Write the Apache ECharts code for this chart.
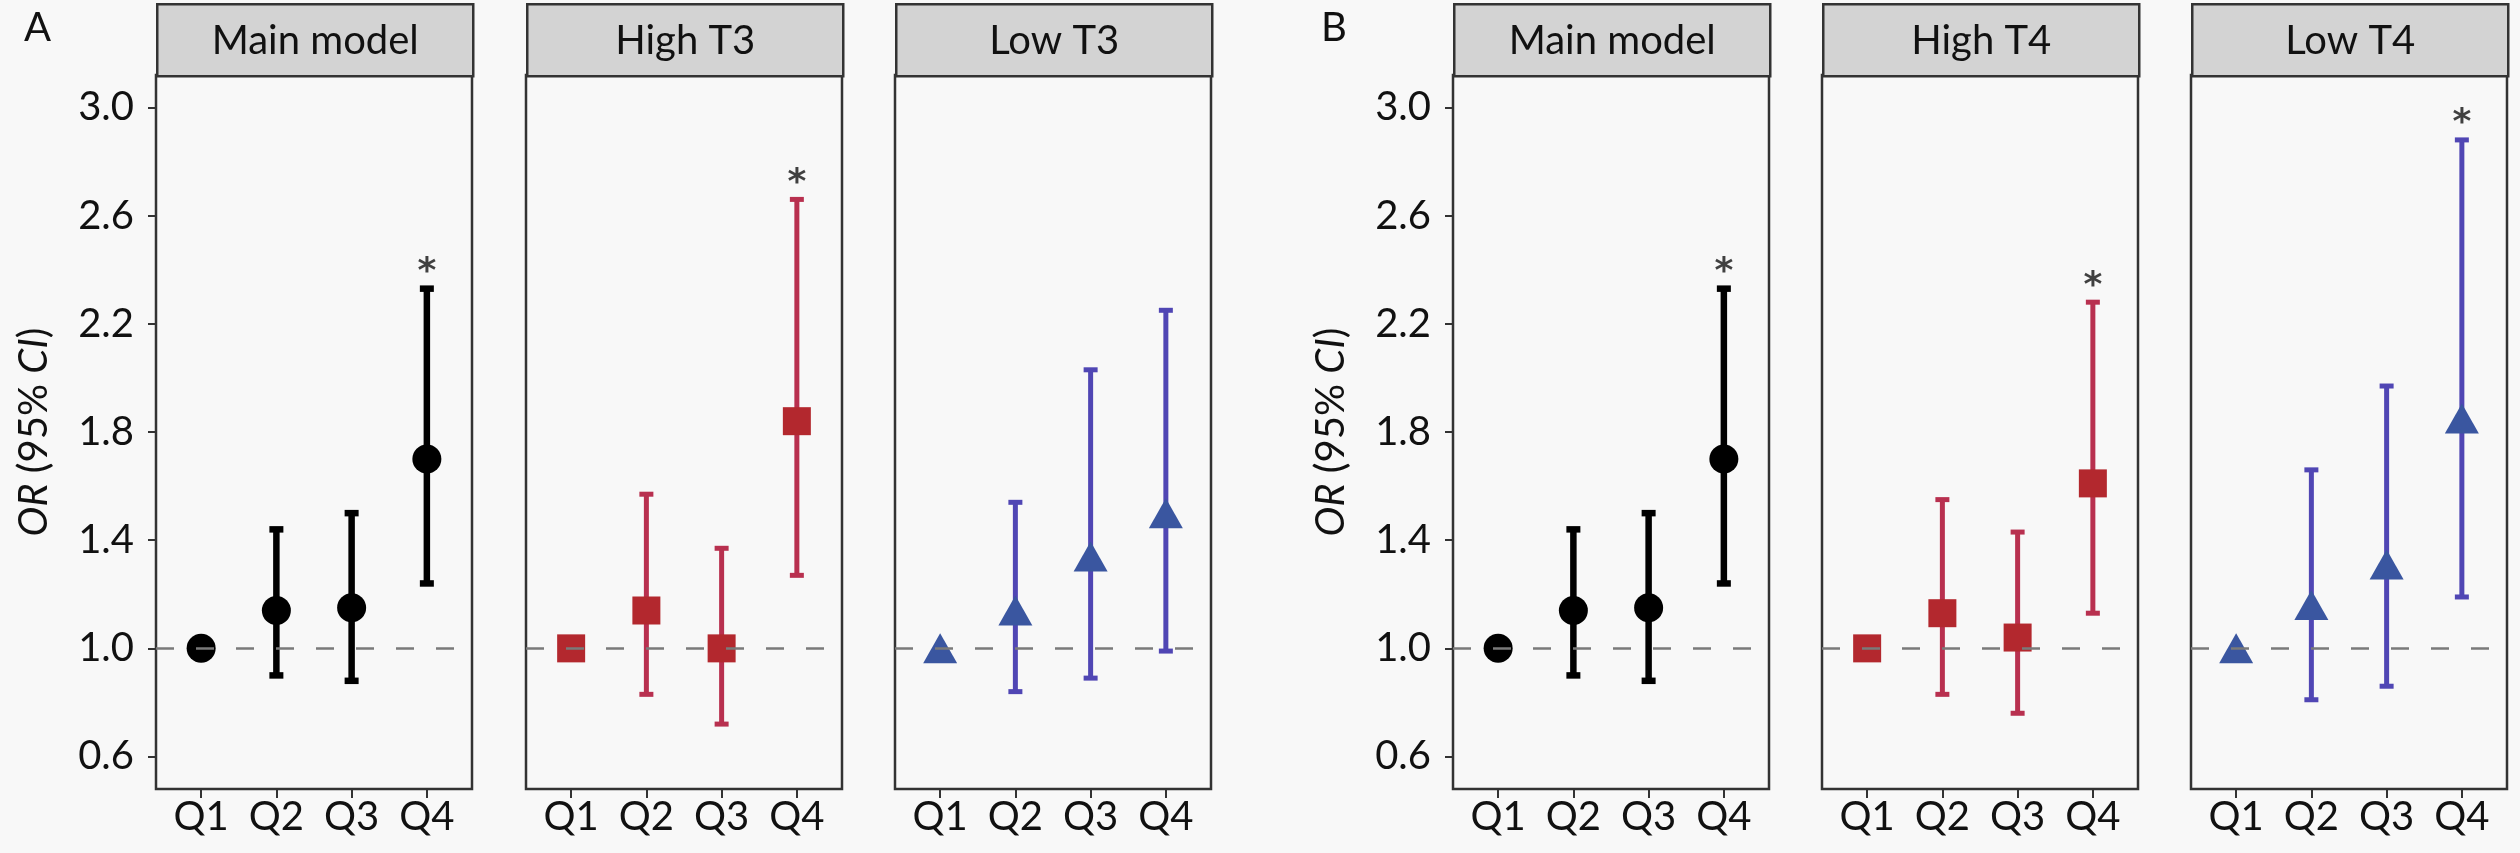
<!DOCTYPE html>
<html>
<head>
<meta charset="utf-8">
<script src="https://cdn.jsdelivr.net/npm/echarts@6/dist/echarts.min.js"></script>
<style>
  html, body { margin: 0; padding: 0; background: #f8f8f8; }
  #main { width: 2520px; height: 853px; }
</style>
</head>
<body>
<div id="main"></div>
<script>
var categories = ['Q1', 'Q2', 'Q3', 'Q4'];
var yTicks = [0.6, 1.0, 1.4, 1.8, 2.2, 2.6, 3.0];
var panelTitles = ['Main model', 'High T3', 'Low T3', 'Main model', 'High T4', 'Low T4'];

// odds ratios and 95% CI per quartile (Q1 = reference)
var mainOR = [1.00, 1.14, 1.15, 1.70];
var mainLo = [null, 0.90, 0.88, 1.24];
var mainHi = [null, 1.44, 1.50, 2.33];
var mainSig = [false, false, false, true];

var highT3OR = [1.00, 1.14, 1.00, 1.84];
var highT3Lo = [null, 0.83, 0.72, 1.27];
var highT3Hi = [null, 1.57, 1.37, 2.66];
var highT3Sig = [false, false, false, true];

var lowT3OR = [1.00, 1.14, 1.34, 1.50];
var lowT3Lo = [null, 0.84, 0.89, 0.99];
var lowT3Hi = [null, 1.54, 2.03, 2.25];
var lowT3Sig = [false, false, false, false];

var highT4OR = [1.00, 1.13, 1.04, 1.61];
var highT4Lo = [null, 0.83, 0.76, 1.13];
var highT4Hi = [null, 1.55, 1.43, 2.28];
var highT4Sig = [false, false, false, true];

var lowT4OR = [1.00, 1.16, 1.31, 1.85];
var lowT4Lo = [null, 0.81, 0.86, 1.19];
var lowT4Hi = [null, 1.66, 1.97, 2.88];
var lowT4Sig = [false, false, false, true];

var FONT = 'Lato';
var FS = 40;
var panels = [
  { or: mainOR, lo: mainLo, hi: mainHi, sig: mainSig, symbol: 'circle', size: 29, fill: '#000000', line: '#000000', lw: 6.5 },
  { or: highT3OR, lo: highT3Lo, hi: highT3Hi, sig: highT3Sig, symbol: 'rect', size: 28, fill: '#B3282E', line: '#B8304F', lw: 5 },
  { or: lowT3OR, lo: lowT3Lo, hi: lowT3Hi, sig: lowT3Sig, symbol: 'triangle', size: [34, 30], fill: '#3A56A0', line: '#5046B4', lw: 5 },
  { or: mainOR, lo: mainLo, hi: mainHi, sig: mainSig, symbol: 'circle', size: 29, fill: '#000000', line: '#000000', lw: 6.5 },
  { or: highT4OR, lo: highT4Lo, hi: highT4Hi, sig: highT4Sig, symbol: 'rect', size: 28, fill: '#B3282E', line: '#B8304F', lw: 5 },
  { or: lowT4OR, lo: lowT4Lo, hi: lowT4Hi, sig: lowT4Sig, symbol: 'triangle', size: [34, 30], fill: '#3A56A0', line: '#5046B4', lw: 5 }
];
var gridLefts = [156, 526, 895, 1453, 1822, 2191];
var gridW = 316, gridTop = 75, gridH = 714;

var grids = [], xAxes = [], yAxes = [], series = [], graphics = [];

panels.forEach(function (p, k) {
  var hasY = (k === 0 || k === 3);
  grids.push({
    left: gridLefts[k], top: gridTop, width: gridW, height: gridH,
    show: true, borderColor: '#333', borderWidth: 2.5, backgroundColor: '#f8f8f8'
  });
  xAxes.push({
    gridIndex: k, type: 'value', min: 0.4, max: 4.6,
    axisLine: { show: false },
    splitLine: { show: false },
    axisTick: { show: true, customValues: [1, 2, 3, 4], length: 9, lineStyle: { color: '#333', width: 2 } },
    axisLabel: {
      customValues: [1, 2, 3, 4], margin: 8,
      fontFamily: FONT, fontSize: FS, color: '#111',
      formatter: function (v) { return categories[Math.round(v) - 1]; }
    }
  });
  yAxes.push({
    gridIndex: k, type: 'value', min: 0.48, max: 3.12,
    axisLine: { show: false },
    splitLine: { show: false },
    axisTick: { show: hasY, customValues: yTicks, length: 8, lineStyle: { color: '#333', width: 2 } },
    axisLabel: {
      show: hasY, customValues: yTicks, margin: 22,
      fontFamily: FONT, fontSize: FS, color: '#111',
      formatter: function (v) { return v.toFixed(1); }
    },
    name: hasY ? '{i|OR} (95% {i|CI})' : '',
    nameLocation: 'middle', nameGap: 102,
    nameTextStyle: {
      fontFamily: FONT, fontSize: FS, color: '#111',
      rich: { i: { fontFamily: FONT, fontSize: FS, fontStyle: 'italic', color: '#111' } }
    }
  });

  var barData = [], ptData = [], starData = [];
  for (var i = 0; i < categories.length; i++) {
    if (p.lo[i] !== null) barData.push([i + 1, p.lo[i], p.hi[i]]);
    ptData.push([i + 1, p.or[i]]);
    if (p.sig[i]) starData.push([i + 1, p.hi[i]]);
  }

  series.push({
    type: 'custom', xAxisIndex: k, yAxisIndex: k, z: 2, silent: true,
    data: barData,
    renderItem: (function (col, lw) {
      return function (params, api) {
        var a = api.coord([api.value(0), api.value(1)]);
        var b = api.coord([api.value(0), api.value(2)]);
        var hw = 7;
        var st = { stroke: col, lineWidth: lw };
        return {
          type: 'group', children: [
            { type: 'line', shape: { x1: a[0], y1: a[1], x2: b[0], y2: b[1] }, style: st },
            { type: 'line', shape: { x1: a[0] - hw, y1: a[1], x2: a[0] + hw, y2: a[1] }, style: st },
            { type: 'line', shape: { x1: b[0] - hw, y1: b[1], x2: b[0] + hw, y2: b[1] }, style: st }
          ]
        };
      };
    })(p.line, p.lw),
    markLine: {
      silent: true, symbol: 'none', label: { show: false },
      lineStyle: { color: '#7a7a7a', type: [18, 22], width: 2.5 },
      data: [{ yAxis: 1 }]
    }
  });
  series.push({
    type: 'scatter', xAxisIndex: k, yAxisIndex: k, z: 3, silent: true,
    symbol: p.symbol, symbolSize: p.size,
    itemStyle: { color: p.fill, opacity: 1 },
    data: ptData
  });
  if (starData.length) {
    series.push({
      type: 'scatter', xAxisIndex: k, yAxisIndex: k, z: 4, silent: true,
      symbol: 'circle', symbolSize: 2, itemStyle: { color: 'rgba(0,0,0,0)' },
      label: {
        show: true, position: 'inside', verticalAlign: 'middle', offset: [0, -16],
        formatter: '*', fontFamily: 'DejaVu Sans', fontWeight: 'bold', fontSize: 36, color: '#111'
      },
      data: starData
    });
  }

  // facet strip
  graphics.push({
    type: 'group', left: gridLefts[k], top: 3,
    children: [
      { type: 'rect', shape: { x: 0, y: 0, width: gridW, height: 72 },
        style: { fill: '#d3d3d3', stroke: '#333', lineWidth: 2.5 } },
      { type: 'text', x: gridW / 2, y: 37,
        style: { text: panelTitles[k], fill: '#111', font: FS + 'px ' + FONT, align: 'center', verticalAlign: 'middle' } }
    ]
  });
});

graphics.push({ type: 'text', left: 24, top: 8, style: { text: 'A', fill: '#111', font: FS + 'px ' + FONT } });
graphics.push({ type: 'text', left: 1321, top: 8, style: { text: 'B', fill: '#111', font: FS + 'px ' + FONT } });

var myChart = echarts.init(document.getElementById('main'));
myChart.setOption({
  backgroundColor: '#f8f8f8',
  animation: false,
  grid: grids,
  xAxis: xAxes,
  yAxis: yAxes,
  series: series,
  graphic: graphics
});
</script>
</body>
</html>
